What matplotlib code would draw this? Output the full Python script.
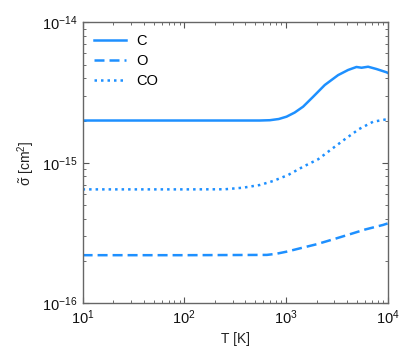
import matplotlib
matplotlib.use("Agg")
import matplotlib.pyplot as plt

plt.rcParams['font.family'] = ['Liberation Sans', 'DejaVu Sans']
plt.rcParams['mathtext.fontset'] = 'custom'
plt.rcParams['mathtext.rm'] = 'Liberation Sans'
plt.rcParams['mathtext.it'] = 'Liberation Sans:italic'
plt.rcParams['mathtext.default'] = 'regular'

# temperature grid [K] and cross sections [cm^2]
T_C = [10, 100, 550, 695, 850, 1014, 1220, 1476, 1850, 2410, 3260, 4090, 4940, 5540,
       6430, 7780, 9750, 10000]
sig_C = [2.0e-15, 2.0e-15, 2.0e-15, 2.01e-15, 2.05e-15, 2.13e-15, 2.28e-15, 2.51e-15,
         2.95e-15, 3.58e-15, 4.21e-15, 4.58e-15, 4.81e-15, 4.75e-15, 4.83e-15, 4.65e-15,
         4.41e-15, 4.37e-15]

T_O = [10, 100, 650, 800, 1014, 1400, 1995, 3000, 4250, 6000, 9000, 10000]
sig_O = [2.2e-16, 2.2e-16, 2.21e-16, 2.25e-16, 2.33e-16, 2.47e-16, 2.63e-16, 2.87e-16,
         3.10e-16, 3.35e-16, 3.61e-16, 3.7e-16]

T_CO = [10, 100, 250, 379, 553, 748, 1052, 1476, 2075, 2806, 3790, 5250, 7200, 9750, 10000]
sig_CO = [6.47e-16, 6.47e-16, 6.48e-16, 6.65e-16, 6.95e-16, 7.42e-16, 8.19e-16, 9.38e-16,
          1.06e-15, 1.25e-15, 1.47e-15, 1.74e-15, 1.96e-15, 2.04e-15, 2.05e-15]

col = '#1E90FF'

fig = plt.figure(figsize=(4.15, 3.63), dpi=100)
ax = fig.add_axes([0.199, 0.1645, 0.735, 0.774])

ax.plot(T_C, sig_C, color=col, lw=1.8, ls='-', label='C')
ax.plot(T_O, sig_O, color=col, lw=1.8, ls=(0, (4, 2)), label='O')
ax.plot(T_CO, sig_CO, color=col, lw=1.8, ls=(0, (1, 1.6)), label='CO')

ax.set_xscale('log')
ax.set_yscale('log')
ax.set_xlim(10, 1e4)
ax.set_ylim(1e-16, 1e-14)

ax.set_xlabel('T [K]', fontsize=10, color='#222222')
ax.set_ylabel(r'$\tilde{\sigma}$ [cm$^2$]', fontsize=10, color='#222222')

for s in ax.spines.values():
    s.set_color('#666666')
    s.set_linewidth(1.0)
ax.tick_params(which='both', direction='in', top=True, right=True, colors='#555555',
               labelcolor='#111111', labelsize=10.5)
ax.tick_params(which='major', length=4)
ax.tick_params(which='minor', length=2)

ax.legend(loc='upper left', frameon=False, fontsize=10.5, handlelength=2.2,
          handletextpad=0.7, borderaxespad=0.4, labelspacing=0.4)

fig.savefig('out.png', dpi=100)
